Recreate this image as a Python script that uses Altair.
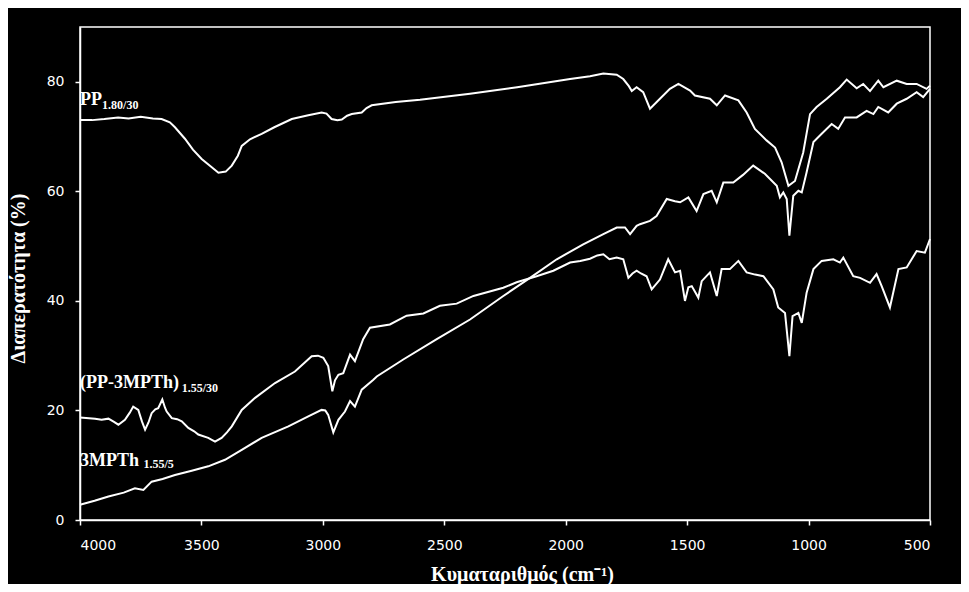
import altair as alt
import pandas as pd

# ---- data ----
pp_wn = [4000, 3950, 3900, 3843, 3800, 3750, 3700, 3664, 3630, 3609, 3568, 3535, 3499, 3460, 3430,
         3400, 3375, 3350, 3334, 3300, 3252, 3200, 3128, 3060, 3005, 2985, 2964, 2940, 2922, 2900,
         2881, 2840, 2820, 2799, 2700, 2600, 2394, 2200, 1982, 1900, 1845, 1790, 1763, 1740, 1728,
         1708, 1681, 1653, 1612, 1571, 1536, 1488, 1468, 1406, 1378, 1344, 1289, 1255, 1221, 1173,
         1138, 1111, 1083, 1056, 1022, 994, 967, 925, 871, 843, 802, 775, 747, 713, 692, 637, 596,
         555, 514, 500]
pp_t = [73.0, 73.0, 73.2, 73.5, 73.3, 73.6, 73.3, 73.2, 72.6, 71.7, 69.6, 67.6, 65.9, 64.5, 63.4,
        63.6, 64.7, 66.5, 68.3, 69.5, 70.5, 71.7, 73.2, 73.9, 74.4, 74.2, 73.2, 73.0, 73.1, 73.8,
        74.1, 74.4, 75.2, 75.7, 76.3, 76.7, 77.8, 79.0, 80.5, 81.0, 81.5, 81.3, 80.5, 79.2, 78.3,
        79.0, 78.1, 75.1, 76.9, 78.7, 79.6, 78.4, 77.5, 76.9, 75.7, 77.5, 76.6, 74.4, 71.4, 69.3,
        68.0, 65.3, 61.0, 61.9, 67.1, 74.1, 75.4, 76.9, 79.0, 80.4, 78.8, 79.6, 78.3, 80.2, 79.0,
        80.2, 79.6, 79.6, 78.7, 79.3]

ppm_wn = [4000, 3938, 3911, 3883, 3860, 3842, 3815, 3795, 3781, 3760, 3745, 3732, 3718, 3705, 3690,
          3678, 3661, 3650, 3643, 3622, 3600, 3581, 3554, 3530, 3513, 3472, 3444, 3417, 3395, 3375,
          3334, 3279, 3197, 3115, 3046, 3020, 2998, 2978, 2961, 2950, 2936, 2916, 2888, 2868, 2834,
          2806, 2724, 2655, 2586, 2518, 2449, 2380, 2257, 2202, 2120, 2051, 1982, 1940, 1900, 1870,
          1845, 1820, 1790, 1763, 1742, 1725, 1708, 1690, 1667, 1646, 1612, 1578, 1550, 1529, 1509,
          1495, 1481, 1454, 1440, 1406, 1378, 1358, 1324, 1289, 1255, 1220, 1186, 1145, 1125, 1097,
          1079, 1066, 1042, 1028, 1008, 980, 946, 898, 871, 857, 816, 788, 747, 720, 699, 665, 630,
          596, 555, 521, 500]
ppm_t = [18.7, 18.5, 18.3, 18.5, 17.9, 17.4, 18.3, 19.6, 20.7, 20.1, 18.0, 16.5, 17.8, 19.5, 20.2,
         20.4, 22.0, 20.5, 19.8, 18.6, 18.4, 18.0, 16.8, 16.2, 15.6, 15.0, 14.3, 15.0, 16.0, 17.1,
         20.1, 22.3, 25.0, 27.1, 29.9, 30.0, 29.6, 28.1, 23.5, 25.5, 26.5, 26.8, 30.2, 29.0, 33.0,
         35.1, 35.7, 37.3, 37.7, 39.1, 39.5, 40.9, 42.4, 43.4, 44.5, 45.5, 47.0, 47.3, 47.7, 48.3,
         48.5, 47.6, 47.9, 47.6, 44.2, 45.0, 45.5, 45.0, 44.5, 42.1, 43.9, 47.6, 45.2, 45.5, 40.0,
         42.5, 42.7, 40.6, 43.6, 45.2, 40.9, 45.8, 45.8, 47.3, 45.2, 44.8, 44.5, 42.1, 38.8, 37.8,
         29.9, 37.2, 37.8, 36.0, 41.5, 45.8, 47.3, 47.6, 47.0, 47.9, 44.5, 44.2, 43.3, 44.9, 42.7,
         38.8, 45.8, 46.1, 49.1, 48.8, 51.3]

mpth_wn = [4000, 3940, 3883, 3820, 3774, 3739, 3705, 3660, 3609, 3540, 3472, 3403, 3334, 3252, 3142,
           3060, 3005, 2990, 2978, 2957, 2936, 2909, 2888, 2868, 2840, 2792, 2778, 2669, 2531, 2394,
           2257, 2147, 2037, 1928, 1845, 1790, 1756, 1735, 1708, 1694, 1653, 1626, 1584, 1550, 1529,
           1495, 1461, 1433, 1399, 1378, 1351, 1310, 1270, 1228, 1180, 1131, 1118, 1104, 1090, 1079,
           1063, 1042, 1028, 1008, 980, 946, 905, 878, 850, 802, 761, 733, 713, 672, 637, 596, 555,
           528, 500]
mpth_t = [2.8, 3.5, 4.3, 5.0, 5.8, 5.5, 7.0, 7.5, 8.2, 9.0, 9.8, 11.0, 12.8, 15.0, 17.1,
          18.9, 20.1, 20.0, 19.2, 16.0, 18.3, 19.8, 21.7, 20.7, 23.8, 25.6, 26.2, 29.3, 33.0, 36.6,
          40.9, 44.2, 47.6, 50.3, 52.2, 53.4, 53.4, 52.2, 53.7, 54.0, 54.6, 55.5, 58.6, 58.2, 58.0,
          58.9, 56.4, 59.5, 60.1, 58.0, 61.6, 61.6, 63.0, 64.7, 63.2, 61.0, 58.9, 59.8, 58.6, 51.9,
          59.2, 60.1, 59.8, 63.5, 69.0, 70.5, 72.3, 71.4, 73.5, 73.5, 74.7, 74.1, 75.4, 74.4, 76.0,
          76.9, 78.1, 77.2, 78.7]

series_names = ["PP 1.80/30", "(PP-3MPTh) 1.55/30", "3MPTh 1.55/5"]

label_main = ["PP", "(PP-3MPTh)", "3MPTh"]
label_sub = ["1.80/30", "1.55/30", "1.55/5"]
label_main_wn = [4000, 4000, 4000]
label_main_t = [75.8, 24.1, 9.9]
label_sub_wn = [3909, 3581, 3739]
label_sub_t = [75.1, 23.4, 9.5]

x_ticks = [4000, 3500, 3000, 2500, 2000, 1500, 1000, 500]
y_ticks = [0, 20, 40, 60, 80]

# ---- build tables ----
frames = []
for name, wn, t in zip(series_names, [pp_wn, ppm_wn, mpth_wn], [pp_t, ppm_t, mpth_t]):
    frames.append(pd.DataFrame({"wn": wn, "T": t, "series": name}))
lines_df = pd.concat(frames, ignore_index=True)

main_df = pd.DataFrame({"wn": label_main_wn, "T": label_main_t, "text": label_main})
sub_df = pd.DataFrame({"wn": label_sub_wn, "T": label_sub_t, "text": label_sub})

x_scale = alt.Scale(domain=[500, 4000], reverse=True, nice=False, zero=False)
y_scale = alt.Scale(domain=[0, 90], nice=False)

x_axis = alt.Axis(values=x_ticks, title="Κυματαριθμός (cm⁻¹)", format="d",
                  titleX=442, titleY=60, titleBaseline="alphabetic", titleFontSize=20)
y_axis = alt.Axis(values=y_ticks, title="Διαπερατότητα (%)",
                  titleX=-56, titleY=251, titleBaseline="alphabetic", titleAngle=-90,
                  titleFontSize=20)

lines = alt.Chart(lines_df).mark_line(color="white", strokeWidth=2).encode(
    x=alt.X("wn:Q", scale=x_scale, axis=x_axis),
    y=alt.Y("T:Q", scale=y_scale, axis=y_axis),
    detail="series:N",
    order="wn:Q",
)

mains = alt.Chart(main_df).mark_text(
    align="left", baseline="alphabetic", font="Liberation Serif", fontWeight="bold",
    fontSize=18, color="white"
).encode(x=alt.X("wn:Q", scale=x_scale), y=alt.Y("T:Q", scale=y_scale), text="text:N")

subs = alt.Chart(sub_df).mark_text(
    align="left", baseline="alphabetic", font="Liberation Serif", fontWeight="bold",
    fontSize=12, color="white"
).encode(x=alt.X("wn:Q", scale=x_scale), y=alt.Y("T:Q", scale=y_scale), text="text:N")

chart = alt.layer(lines, mains, subs).properties(
    width=850, height=493,
    background="black",
    autosize=alt.AutoSizeParams(type="none"),
    padding={"left": 72, "top": 19, "right": 31, "bottom": 64},
).configure_view(
    stroke="white", strokeWidth=1.5
).configure_axis(
    grid=False,
    domainColor="white", domainWidth=1.5,
    tickColor="white", tickSize=5, tickWidth=1.5,
    labelColor="white", labelFont="DejaVu Sans", labelFontSize=14,
    titleColor="white", titleFont="Liberation Serif", titleFontWeight="bold",
).configure_axisX(
    labelPadding=13
).configure_axisY(
    labelPadding=11
)

chart.save("out.html", embed_options={"renderer": "svg", "actions": False})
